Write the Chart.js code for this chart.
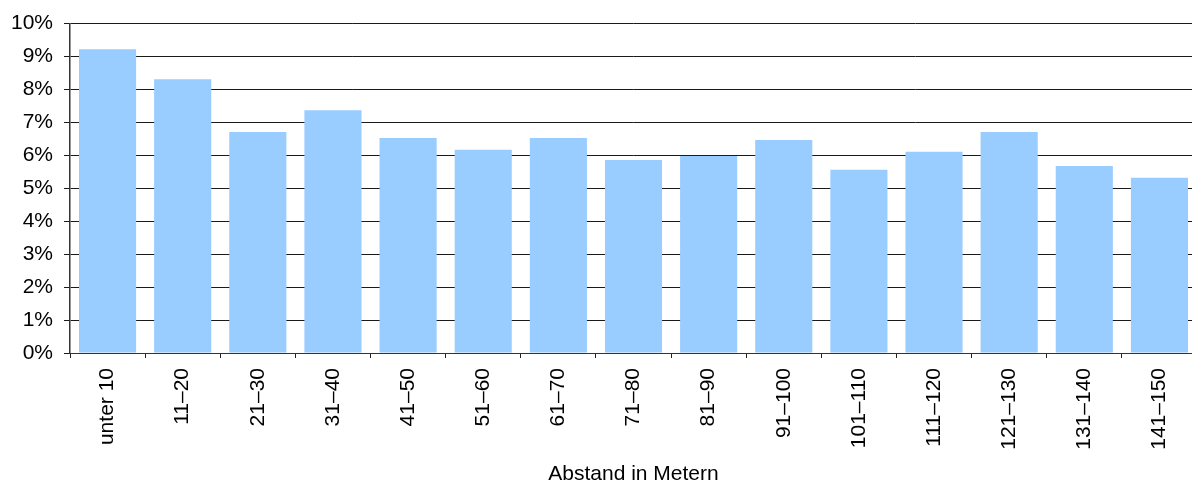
<!DOCTYPE html>
<html lang="de">
<head>
<meta charset="utf-8">
<title>Abstand in Metern</title>
<script src="https://cdn.jsdelivr.net/npm/chart.js@4/dist/chart.umd.min.js"></script>
<style>
  html, body { margin: 0; padding: 0; background: #fff; overflow: hidden; }
  #wrap { position: relative; width: 1198px; height: 485px; }
</style>
</head>
<body>
<div id="wrap"><canvas id="chart"></canvas></div>
<script>
// Distance bands (metres) and share of cases per band, in percent
const categories = ['unter 10', '11–20', '21–30', '31–40', '41–50', '51–60', '61–70',
  '71–80', '81–90', '91–100', '101–110', '111–120', '121–130', '131–140', '141–150'];
const shares = [9.22, 8.31, 6.71, 7.37, 6.53, 6.17, 6.53, 5.86, 5.98, 6.47, 5.56, 6.11, 6.71, 5.68, 5.32];
const yTicks = [0, 1, 2, 3, 4, 5, 6, 7, 8, 9, 10];
const axisTitle = 'Abstand in Metern';

const FONT = 'Liberation Sans, Arial, Helvetica, sans-serif';

new Chart(document.getElementById('chart'), {
  type: 'bar',
  data: {
    labels: categories,
    datasets: [{
      data: shares,
      backgroundColor: '#99CCFF',
      borderWidth: 0,
      barPercentage: 0.76,
      categoryPercentage: 1.0
    }]
  },
  options: {
    responsive: true,
    maintainAspectRatio: false,
    animation: false,
    layout: { padding: { top: 22, right: 1, bottom: 0, left: 0 } },
    plugins: { legend: { display: false }, tooltip: { enabled: false } },
    scales: {
      x: {
        offset: true,
        grid: {
          offset: true,
          drawOnChartArea: false,
          drawTicks: true,
          tickLength: 5,
          color: '#222222',
          lineWidth: 1
        },
        border: { display: true, color: '#333333', width: 1 },
        ticks: {
          autoSkip: false,
          minRotation: 90,
          maxRotation: 90,
          padding: 10,
          color: '#000000',
          font: { family: FONT, size: 21 }
        },
        title: {
          display: true,
          text: axisTitle,
          color: '#000000',
          font: { family: FONT, size: 21, lineHeight: 1 },
          padding: { top: -3, bottom: 0 }
        },
        afterFit: (scale) => { scale.height = 132; }
      },
      y: {
        min: 0,
        max: 10,
        afterBuildTicks: (scale) => { scale.ticks = yTicks.map(v => ({ value: v })); },
        grid: {
          color: '#1a1a1a',
          lineWidth: 1,
          drawTicks: true,
          tickLength: 6
        },
        border: { display: true, color: '#333333', width: 1.5 },
        ticks: {
          padding: 11,
          color: '#000000',
          font: { family: FONT, size: 21 },
          callback: (v) => v + '%'
        },
        afterFit: (scale) => { scale.width = 70; }
      }
    }
  }
});
</script>
</body>
</html>
